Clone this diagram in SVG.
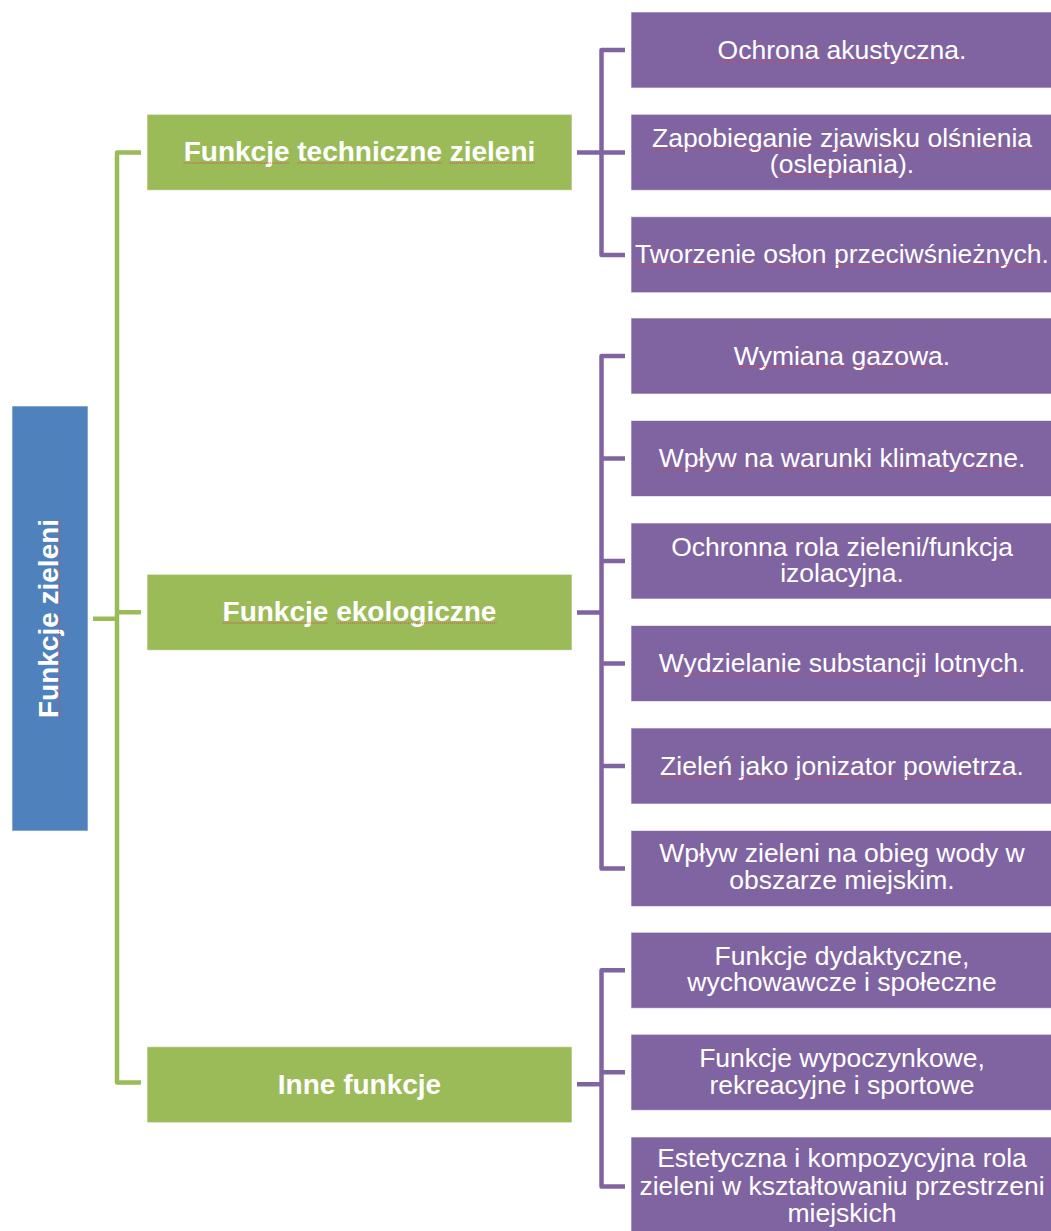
<svg xmlns="http://www.w3.org/2000/svg" width="1051" height="1231" viewBox="0 0 1051 1231">
<style>
.root{fill:#4F81BD;stroke:#FFFFFF;stroke-opacity:0.6;stroke-width:1}
.grn{fill:#9BBB59;stroke:#FFFFFF;stroke-opacity:0.6;stroke-width:1}
.pur{fill:#8064A2;stroke:#FFFFFF;stroke-opacity:0.6;stroke-width:1}
.tb{font-family:"Liberation Sans",Arial,sans-serif;font-weight:bold;font-size:28px;fill:#FFFFFF;text-anchor:middle}
.tp{font-family:"Liberation Sans",Arial,sans-serif;font-size:26.5px;fill:#FFFFFF;text-anchor:middle}
.cg{fill:none;stroke:#9BBB59;stroke-width:4.5;stroke-linejoin:round}
.cp{fill:none;stroke:#8064A2;stroke-width:4.5;stroke-linejoin:round}
.sp{stroke:#E0404A;stroke-width:1;stroke-dasharray:1 1;fill:none}
</style>
<rect width="1051" height="1231" fill="#FFFFFF"/>
<g id="connectors">
  <path class="cg" d="M141,152.5 H117 V1082.5 H141 M117,612.3 H141 M93,618.7 H117"/>
  <path class="cp" d="M625,50 H601.5 V255 H625 M601.5,152.5 H625 M577,152.5 H601.5"/>
  <path class="cp" d="M625,356 H601.5 V868.5 H625 M601.5,458.5 H625 M601.5,561 H625 M601.5,663.5 H625 M601.5,766 H625 M577,612.5 H601.5"/>
  <path class="cp" d="M625,970.3 H601.5 V1186.5 H625 M601.5,1072.3 H625 M577,1084.3 H601.5"/>
</g>
<g id="root">
  <rect class="root" x="12" y="406" width="76" height="425"/>
  <g transform="translate(57.5,618.5) rotate(-90)">
    <text class="tb" x="0" y="0">Funkcje zieleni</text>
    <path class="sp" d="M-99.6,2 H6.2 M14,2 H99.6"/>
  </g>
</g>
<g id="g1">
  <rect class="grn" x="147" y="114.3" width="425" height="76"/>
  <text class="tb" x="359.5" y="161">Funkcje techniczne zieleni</text>
  <path class="sp" d="M183.7,163 H289.5 M297.3,163 H442 M449.8,163 H535.4"/>
</g>
<g id="g2">
  <rect class="grn" x="147" y="574.3" width="425" height="76"/>
  <text class="tb" x="359.5" y="621">Funkcje ekologiczne</text>
  <path class="sp" d="M222.6,623 H328.4 M336.2,623 H496.5"/>
</g>
<g id="g3">
  <rect class="grn" x="147" y="1046.7" width="425" height="76"/>
  <text class="tb" x="359.5" y="1093.5">Inne funkcje</text>
</g>
<g id="p1">
  <rect class="pur" x="631" y="12" width="421" height="76"/>
  <text class="tp" x="842" y="58.5">Ochrona akustyczna.</text>
  <path class="sp" d="M717.5,60.5 H819.1 M826.5,60.5 H959.1"/>
</g>
<g id="p2">
  <rect class="pur" x="631" y="114.3" width="421" height="76"/>
  <text class="tp" x="842" y="147">Zapobieganie zjawisku olśnienia<tspan x="842" dy="26">(oslepiania).</tspan></text>
  <path class="sp" d="M652,149 H812.6 M820,149 H920.1 M927.5,149 H1032.1 M778.6,175 H897.9"/>
</g>
<g id="p3">
  <rect class="pur" x="631" y="216.7" width="421" height="76"/>
  <text class="tp" x="842" y="262.5">Tworzenie osłon przeciwśnieżnych.</text>
  <path class="sp" d="M634.4,264.5 H756.6 M764,264.5 H827.3 M834.7,264.5 H1042.3"/>
</g>
<g id="p4">
  <rect class="pur" x="631" y="318" width="421" height="76"/>
  <text class="tp" x="842" y="364.5">Wymiana gazowa.</text>
  <path class="sp" d="M733.8,366.5 H844.2 M851.6,366.5 H942.9"/>
</g>
<g id="p5">
  <rect class="pur" x="631" y="420.5" width="421" height="76"/>
  <text class="tp" x="842" y="467">Wpływ na warunki klimatyczne.</text>
  <path class="sp" d="M658.7,469 H736.7 M744.1,469 H773.6 M781,469 H872.3 M879.7,469 H1018.1"/>
</g>
<g id="p6">
  <rect class="pur" x="631" y="523" width="421" height="76"/>
  <text class="tp" x="842" y="555.7">Ochronna rola zieleni/funkcja<tspan x="842" dy="26.6">izolacyjna.</tspan></text>
</g>
<g id="p7">
  <rect class="pur" x="631" y="625.5" width="421" height="76"/>
  <text class="tp" x="842" y="672">Wydzielanie substancji lotnych.</text>
  <path class="sp" d="M658.7,674 H801.5 M808.9,674 H926.7 M934.1,674 H1018.1"/>
</g>
<g id="p8">
  <rect class="pur" x="631" y="728" width="421" height="76"/>
  <text class="tp" x="842" y="774.5">Zieleń jako jonizator powietrza.</text>
  <path class="sp" d="M660.1,776.5 H732.3 M739.7,776.5 H788.3 M795.7,776.5 H895.8 M903.2,776.5 H1016.6"/>
</g>
<g id="p9">
  <rect class="pur" x="631" y="830.5" width="421" height="76"/>
  <text class="tp" x="842" y="861.7">Wpływ zieleni na obieg wody w<tspan x="842" dy="27.3">obszarze miejskim.</tspan></text>
</g>
<g id="p10">
  <rect class="pur" x="631" y="932.3" width="421" height="76"/>
  <text class="tp" x="842" y="965">Funkcje dydaktyczne,<tspan x="842" dy="26">wychowawcze  i społeczne</tspan></text>
</g>
<g id="p11">
  <rect class="pur" x="631" y="1034.3" width="421" height="76"/>
  <text class="tp" x="842" y="1066.7">Funkcje wypoczynkowe,<tspan x="842" dy="27.3">rekreacyjne i sportowe</tspan></text>
</g>
<g id="p12">
  <rect class="pur" x="631" y="1137" width="421" height="100"/>
  <text class="tp" x="842" y="1167.3">Estetyczna i kompozycyjna rola<tspan x="842" dy="27.7">zieleni w kształtowaniu przestrzeni</tspan><tspan x="842" dy="26.7">miejskich</tspan></text>
</g>
</svg>
